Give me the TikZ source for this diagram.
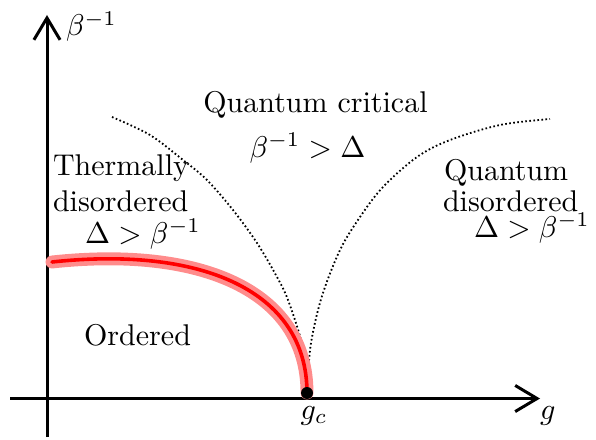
\documentclass[tikz,border=0pt]{standalone}
\usetikzlibrary{arrows.meta}
\begin{document}
\begin{tikzpicture}[x=0.3333pt,y=-0.3333pt,
  axis/.style={line width=1pt,-{Straight Barb[length=7.3pt,width=8.7pt,line width=1pt]}},
  txt/.style={inner sep=0pt,outer sep=0pt},
  crit/.style={line width=0.6pt,dash pattern=on 0.55pt off 0.8pt},
  halo/.style={line width=4.3pt,red!45,line cap=round},
  core/.style={line width=1.2pt,red,line cap=round}]
\useasboundingbox (0,0) rectangle (596,439);
% axes
\coordinate (xs) at (10,398.5);
\coordinate (xe) at (540,398.5);
\coordinate (ys) at (47,437);
\coordinate (ye) at (47,15);
\draw[axis] (xs) -- (xe);
\draw[axis] (ys) -- (ye);
% labels on axes
\node[txt,anchor=base west] (ylab) at (66,36) {$\beta^{-1}$};
\node[txt,anchor=base west] (xlab) at (540,419) {$g$};
\node[txt,anchor=base] (gc) at (314,419) {$g_c$};
% crossover lines
\draw[crit] plot[smooth,tension=0.55] coordinates {(112,117) (150,135) (183,160) (207,180) (233,210) (257,243) (277,277) (288,300) (301,340) (305.8,370) (307,393)};
\draw[crit] plot[smooth,tension=0.55] coordinates {(307,393) (310.7,345) (321.7,297) (340,250) (360,217) (383,187) (417,157) (450,140) (500,125) (550,119)};
% transition line
\coordinate (t0) at (52,262);
\coordinate (gcp) at (307,393);
\draw[halo] (t0) .. controls (200,246) and (307,290) .. (gcp);
\draw[core] (t0) .. controls (200,246) and (307,290) .. (gcp);
\fill (gcp) circle (6);
% region labels
\node[txt,anchor=base] (qc) at (315.5,113) {Quantum critical};
\node[txt,anchor=base] (qcm) at (307.5,157) {$\beta^{-1}>\Delta$};
\node[txt,anchor=base west] (td1) at (53,175) {Thermally};
\node[txt,anchor=base west] (td2) at (53,211.7) {disordered};
\node[txt,anchor=base west] (tdm) at (85,243) {$\Delta>\beta^{-1}$};
\node[txt,anchor=base west] (qd1) at (444,180) {Quantum};
\node[txt,anchor=base west] (qd2) at (443,211.7) {disordered};
\node[txt,anchor=base west] (qdm) at (474,237) {$\Delta>\beta^{-1}$};
\node[txt,anchor=base] (ord) at (137.5,345) {Ordered};
\end{tikzpicture}
\end{document}
